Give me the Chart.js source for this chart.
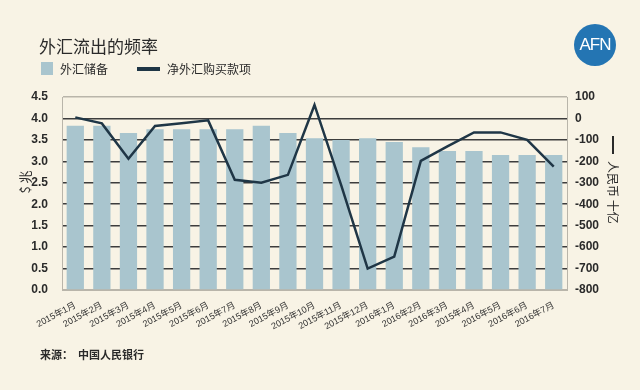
<!DOCTYPE html>
<html>
<head>
<meta charset="utf-8">
<script src="https://cdn.jsdelivr.net/npm/chart.js@4.4.0/dist/chart.umd.min.js"></script>
<style>
  html, body { margin: 0; padding: 0; background: #f8f3e5; }
  #wrap { position: relative; width: 640px; height: 390px; overflow: hidden; }
  #chart { position: absolute; left: 0; top: 0; }
  .txt { position: absolute; font-family: 'Noto Sans CJK SC', 'Liberation Sans', sans-serif; color: #2a2a2a; white-space: nowrap; }
  #title { left: 39px; top: 33px; font-size: 17px; }
  #leg1box { position: absolute; left: 41px; top: 62px; width: 12px; height: 13px; background: #a9c5ce; }
  #leg1 { left: 60px; top: 60px; font-size: 12px; }
  #leg2line { position: absolute; left: 137px; top: 67px; width: 23px; height: 4px; background: #1f3646; }
  #leg2 { left: 167px; top: 60px; font-size: 12px; }
  #logo { position: absolute; left: 574px; top: 24px; width: 42px; height: 42px; border-radius: 50%; background: #2475b3;
          color: #fff; font-family: 'Liberation Sans', sans-serif; font-size: 17px; line-height: 42px; text-align: center; letter-spacing: -1px; }
  #src { left: 40px; top: 346px; font-size: 11px; font-weight: bold; }
</style>
</head>
<body>
<div id="wrap">
  <canvas id="chart" width="640" height="390"></canvas>
  <div class="txt" id="title">外汇流出的频率</div>
  <div id="leg1box"></div><div class="txt" id="leg1">外汇储备</div>
  <div id="leg2line"></div><div class="txt" id="leg2">净外汇购买款项</div>
  <div id="logo">AFN</div>
  <div class="txt" id="src">来源：&nbsp; 中国人民银行</div>
</div>
<script>
    "use strict";

    // categories (the "2015年4月" near the end is as printed in the source)
    const months = ["2015年1月", "2015年2月", "2015年3月", "2015年4月", "2015年5月", "2015年6月",
        "2015年7月", "2015年8月", "2015年9月", "2015年10月", "2015年11月", "2015年12月",
        "2016年1月", "2016年2月", "2016年3月", "2015年4月", "2016年5月", "2016年6月", "2016年7月"];

    // 外汇储备, $ 兆
    const reserves = [3.83, 3.83, 3.66, 3.75, 3.75, 3.75, 3.75, 3.83, 3.66, 3.54,
        3.50, 3.54, 3.45, 3.33, 3.24, 3.24, 3.15, 3.15, 3.15];

    // 净外汇购买款项, 人民币 十亿
    const netPurchase = [5, -23, -188, -35, -22, -9, -286, -300, -263, 63,
        -310, -700, -644, -198, -130, -65, -65, -100, -225];

    const leftTicks = { min: 0, max: 4.5, step: 0.5 };
    const rightTicks = { min: -800, max: 100, step: 100 };

    const FONT = "'Liberation Sans', 'Noto Sans CJK SC', sans-serif";
    const CJK = "'Noto Sans CJK SC', sans-serif";
    const lightEdge = '#b9b5aa';
    const darkGrid = '#3d3d3d';

    const axisTitles = {
        id: 'axisTitles',
        afterDraw(chart) {
            const c = chart.ctx;
            c.save();
            c.fillStyle = '#2a2a2a';
            c.font = '13px ' + CJK;
            c.textAlign = 'center';
            c.textBaseline = 'middle';
            // left: reads bottom to top
            c.translate(25, 182);
            c.rotate(-Math.PI / 2);
            c.fillText('$ 兆', 0, 0);
            c.restore();

            c.save();
            c.strokeStyle = '#2a2a2a';
            c.lineWidth = 2;
            c.beginPath();
            c.moveTo(613, 136);
            c.lineTo(613, 154);
            c.stroke();
            c.fillStyle = '#2a2a2a';
            c.font = '12px ' + CJK;
            c.textAlign = 'left';
            c.textBaseline = 'middle';
            c.translate(613, 161);
            c.rotate(Math.PI / 2);
            c.fillText('人民币 十亿', 0, 0);
            c.restore();
        }
    };

    new Chart(document.getElementById('chart').getContext('2d'), {
        type: 'bar',
        data: {
            labels: months,
            datasets: [
                {
                    type: 'line',
                    label: '净外汇购买款项',
                    data: netPurchase,
                    yAxisID: 'y1',
                    borderColor: '#1f3646',
                    borderWidth: 2.5,
                    pointRadius: 0,
                    tension: 0,
                    order: 0
                },
                {
                    type: 'bar',
                    label: '外汇储备',
                    data: reserves,
                    yAxisID: 'y',
                    backgroundColor: '#a9c5ce',
                    barPercentage: 0.65,
                    categoryPercentage: 1.0,
                    order: 1
                }
            ]
        },
        options: {
            responsive: false,
            animation: false,
            layout: { padding: { top: 97, left: 0, right: 0, bottom: 0 } },
            plugins: { legend: { display: false }, tooltip: { enabled: false } },
            scales: {
                x: {
                    offset: true,
                    afterFit(s) { s.height = 100; },
                    grid: { display: false, drawTicks: false },
                    border: { display: true, color: lightEdge, width: 1 },
                    ticks: {
                        autoSkip: false,
                        maxRotation: 28,
                        minRotation: 28,
                        padding: 10,
                        color: '#333',
                        font: { family: FONT, size: 9 }
                    }
                },
                y: {
                    position: 'left',
                    min: leftTicks.min,
                    max: leftTicks.max,
                    afterFit(s) { s.width = 62; },
                    afterBuildTicks(s) {
                        s.ticks = [];
                        for (let v = leftTicks.min; v <= leftTicks.max + 1e-9; v += leftTicks.step) s.ticks.push({ value: +v.toFixed(1) });
                    },
                    grid: {
                        drawTicks: false,
                        lineWidth: 1.5,
                        color: (ctx) => (ctx.index === 0 || ctx.tick.value === leftTicks.max) ? lightEdge : darkGrid
                    },
                    border: { display: true, color: lightEdge, width: 1 },
                    ticks: {
                        padding: 14,
                        color: '#2a2a2a',
                        font: { family: FONT, size: 12, weight: 'bold' },
                        callback: (v) => Number(v).toFixed(1)
                    }
                },
                y1: {
                    position: 'right',
                    min: rightTicks.min,
                    max: rightTicks.max,
                    afterFit(s) { s.width = 73; },
                    afterBuildTicks(s) {
                        s.ticks = [];
                        for (let v = rightTicks.min; v <= rightTicks.max; v += rightTicks.step) s.ticks.push({ value: v });
                    },
                    grid: { display: false, drawTicks: false },
                    border: { display: true, color: lightEdge, width: 1 },
                    ticks: {
                        padding: 8,
                        color: '#2a2a2a',
                        font: { family: FONT, size: 12, weight: 'bold' }
                    }
                }
            }
        },
        plugins: [axisTitles]
    });
</script>
</body>
</html>
